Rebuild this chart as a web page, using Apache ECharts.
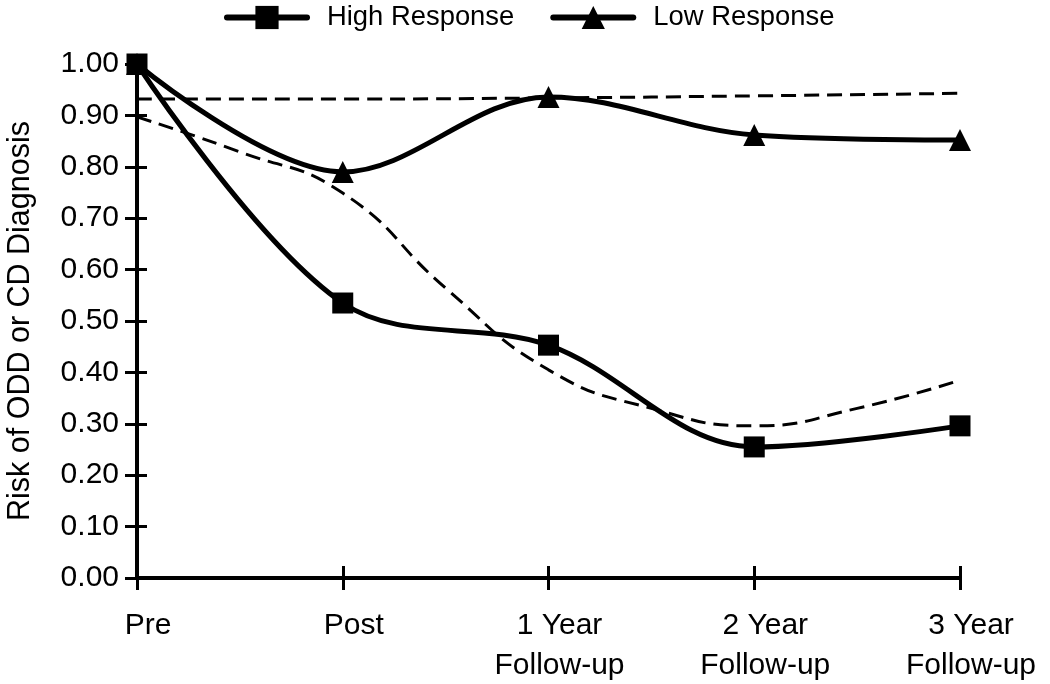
<!DOCTYPE html>
<html>
<head>
<meta charset="utf-8">
<script src="https://cdn.jsdelivr.net/npm/echarts@6/dist/echarts.min.js"></script>
<style>
html,body{margin:0;padding:0;background:#fff;}
#chart{width:1050px;height:684px;}
</style>
</head>
<body>
<div id="chart"></div>
<script>
// ---- data ----
var categories = ['Pre', 'Post', '1 Year\nFollow-up', '2 Year\nFollow-up', '3 Year\nFollow-up'];
var highResponse = [1.00, 0.535, 0.453, 0.255, 0.296];
var lowResponse = [1.00, 0.790, 0.936, 0.862, 0.852];
// dashed fitted trend lines, read at half-category steps
var trendX = [0, 0.5, 1, 1.5, 2, 2.5, 3, 3.5, 4];
var highTrend = [0.897, 0.829, 0.749, 0.564, 0.405, 0.330, 0.296, 0.330, 0.385];
var lowTrendX = [0, 1, 2, 3, 4];
var lowTrend = [0.932, 0.932, 0.934, 0.938, 0.943];
var yTicks = { min: 0, max: 1, interval: 0.1 };

function pairs(xs, ys) { return ys.map(function (v, i) { return [xs[i], v]; }); }
var catIdx = categories.map(function (c, i) { return i; });

var FONT = '"Liberation Sans", Arial, sans-serif';
var chart = echarts.init(document.getElementById('chart'), null, { renderer: 'canvas' });

var axisLineStyle = { color: '#000', width: 4 };

chart.setOption({
  backgroundColor: '#fff',
  animation: false,
  textStyle: { fontFamily: FONT, color: '#000' },
  legend: {
    data: ['High Response', 'Low Response'],
    left: 224,
    top: 4,
    padding: 0,
    itemWidth: 80,
    itemHeight: 29,
    itemGap: 36,
    lineStyle: { width: 6, color: '#000', cap: 'round' },
    itemStyle: { color: '#000' },
    textStyle: { fontSize: 27.4, color: '#000', fontFamily: FONT, padding: [0, 0, 0, 15] }
  },
  grid: { left: 137, right: 90, top: 64, bottom: 106, containLabel: false, outerBoundsMode: 'none' },
  xAxis: [
    {
      type: 'value', min: 0, max: 4, interval: 1,
      axisLine: { show: true, lineStyle: axisLineStyle },
      axisTick: { show: true, length: 12, lineStyle: { color: '#000', width: 3 } },
      splitLine: { show: false },
      axisLabel: {
        fontSize: 30, color: '#000', fontFamily: FONT, margin: 28, lineHeight: 40,
        padding: [0, 0, 0, 22],
        formatter: function (v) { return categories[Math.round(v)] || ''; }
      }
    },
    {
      type: 'value', min: 0, max: 4, interval: 1, position: 'bottom',
      axisLine: { show: false },
      axisTick: { show: true, inside: true, length: 12, lineStyle: { color: '#000', width: 3 } },
      splitLine: { show: false },
      axisLabel: { show: false }
    }
  ],
  yAxis: [
    {
      type: 'value', min: yTicks.min, max: yTicks.max, interval: yTicks.interval,
      name: 'Risk of ODD or CD Diagnosis',
      nameLocation: 'middle', nameGap: 101, nameRotate: 90,
      nameTextStyle: { fontSize: 30.5, color: '#000', fontFamily: FONT },
      axisLine: { show: true, lineStyle: axisLineStyle },
      axisTick: { show: true, length: 12, lineStyle: { color: '#000', width: 3 } },
      splitLine: { show: false },
      axisLabel: {
        fontSize: 30, color: '#000', fontFamily: FONT, margin: 18,
        formatter: function (v) { return v.toFixed(2); }
      }
    },
    {
      type: 'value', min: yTicks.min, max: yTicks.max, interval: yTicks.interval, position: 'left',
      axisLine: { show: false },
      axisTick: { show: true, inside: true, length: 10, lineStyle: { color: '#000', width: 3 } },
      splitLine: { show: false },
      axisLabel: { show: false }
    }
  ],
  series: [
    {
      name: 'High Trend', type: 'line', xAxisIndex: 0, yAxisIndex: 0,
      data: pairs(trendX, highTrend), smooth: 0.5, showSymbol: false, symbol: 'none',
      lineStyle: { color: '#000', width: 3, type: [15, 8] }, z: 2, silent: true
    },
    {
      name: 'Low Trend', type: 'line', xAxisIndex: 0, yAxisIndex: 0,
      data: pairs(lowTrendX, lowTrend), smooth: 0.5, showSymbol: false, symbol: 'none',
      lineStyle: { color: '#000', width: 3, type: [15, 8] }, z: 2, silent: true
    },
    {
      name: 'High Response', type: 'line', xAxisIndex: 0, yAxisIndex: 0,
      data: pairs(catIdx, highResponse), smooth: 0.35,
      symbol: 'rect', symbolSize: 21,
      lineStyle: { color: '#000', width: 5, cap: 'round' },
      itemStyle: { color: '#000' }, z: 3
    },
    {
      name: 'Low Response', type: 'line', xAxisIndex: 0, yAxisIndex: 0,
      data: pairs(catIdx, lowResponse), smooth: 0.35,
      symbol: 'triangle', symbolSize: 22,
      lineStyle: { color: '#000', width: 5, cap: 'round' },
      itemStyle: { color: '#000' }, z: 3
    }
  ]
});
</script>
</body>
</html>
